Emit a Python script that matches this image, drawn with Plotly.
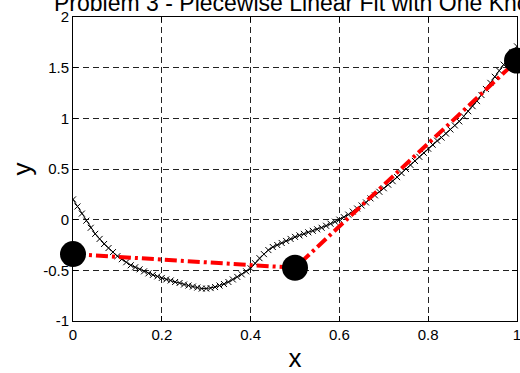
import plotly.graph_objects as go

# Sampled data (x in steps of 0.01)
x_data = [i / 100 for i in range(101)]
y_data = [
    0.20, 0.13, 0.06, -0.01, -0.08, -0.14, -0.19, -0.24, -0.28, -0.32,
    -0.36, -0.39, -0.42, -0.45, -0.47, -0.49, -0.51, -0.53, -0.545, -0.56,
    -0.575, -0.59, -0.60, -0.615, -0.625, -0.64, -0.65, -0.66, -0.67, -0.68,
    -0.68, -0.675, -0.665, -0.65, -0.635, -0.615, -0.59, -0.565, -0.54, -0.51,
    -0.48, -0.43, -0.38, -0.34, -0.30, -0.27, -0.25, -0.23, -0.21, -0.19,
    -0.17, -0.155, -0.14, -0.125, -0.11, -0.095, -0.08, -0.06, -0.04, -0.02,
    0.00, 0.025, 0.05, 0.08, 0.11, 0.14, 0.17, 0.21, 0.24, 0.275,
    0.31, 0.345, 0.38, 0.42, 0.46, 0.50, 0.54, 0.58, 0.62, 0.66,
    0.70, 0.74, 0.78, 0.81, 0.85, 0.89, 0.93, 0.97, 1.02, 1.07,
    1.12, 1.17, 1.23, 1.29, 1.35, 1.41, 1.47, 1.53, 1.59, 1.65,
    1.71,
]

# Piecewise linear fit: end points and the single knot
knot_x = [0.0, 0.5, 1.0]
knot_y = [-0.34, -0.475, 1.57]

x_tick_vals = [0, 0.2, 0.4, 0.6, 0.8, 1]
x_tick_text = ["0", "0.2", "0.4", "0.6", "0.8", "1"]
y_tick_vals = [-1, -0.5, 0, 0.5, 1, 1.5, 2]
y_tick_text = ["-1", "-0.5", "0", "0.5", "1", "1.5", "2"]

FONT = "Arial, Liberation Sans, sans-serif"

fig = go.Figure()

fig.add_trace(go.Scatter(
    x=x_data, y=y_data, mode="lines+markers",
    line=dict(color="black", width=1),
    marker=dict(symbol="x-thin", size=6, line=dict(color="black", width=1)),
    showlegend=False,
))

fig.add_trace(go.Scatter(
    x=knot_x, y=knot_y, mode="lines",
    line=dict(color="#ff0000", width=4, dash="12px,4px,3px,4px"),
    showlegend=False,
))

fig.add_trace(go.Scatter(
    x=knot_x, y=knot_y, mode="markers",
    marker=dict(color="black", size=26),
    cliponaxis=False,
    showlegend=False,
))

axis_common = dict(
    showline=True, linecolor="black", linewidth=1, mirror="ticks",
    ticks="inside", ticklen=5, tickcolor="black", tickwidth=1,
    showgrid=True, gridcolor="#222222", gridwidth=1, griddash="6px,4px",
    zeroline=False, ticklabeloverflow="allow", automargin=False,
    tickfont=dict(family=FONT, size=15, color="black"),
)

fig.update_xaxes(
    range=[0, 1], tickmode="array", tickvals=x_tick_vals, ticktext=x_tick_text,
    title=dict(text="x", font=dict(family=FONT, size=26, color="black"), standoff=8),
    **axis_common,
)
fig.update_yaxes(
    range=[-1, 2], tickmode="array", tickvals=y_tick_vals, ticktext=y_tick_text,
    title=dict(text="y", font=dict(family=FONT, size=26, color="black"), standoff=4),
    **axis_common,
)

fig.update_layout(
    width=520, height=373,
    margin=dict(l=73, r=3, t=17, b=52, pad=0),
    paper_bgcolor="white", plot_bgcolor="white",
    title=dict(
        text="Problem 3 - Piecewise Linear Fit with One Knot",
        font=dict(family=FONT, size=23, color="black"),
        x=0.5, xref="paper", xanchor="center",
        y=1 - 11 / 373, yref="container", yanchor="bottom",
    ),
)

fig.write_html("out.html")
